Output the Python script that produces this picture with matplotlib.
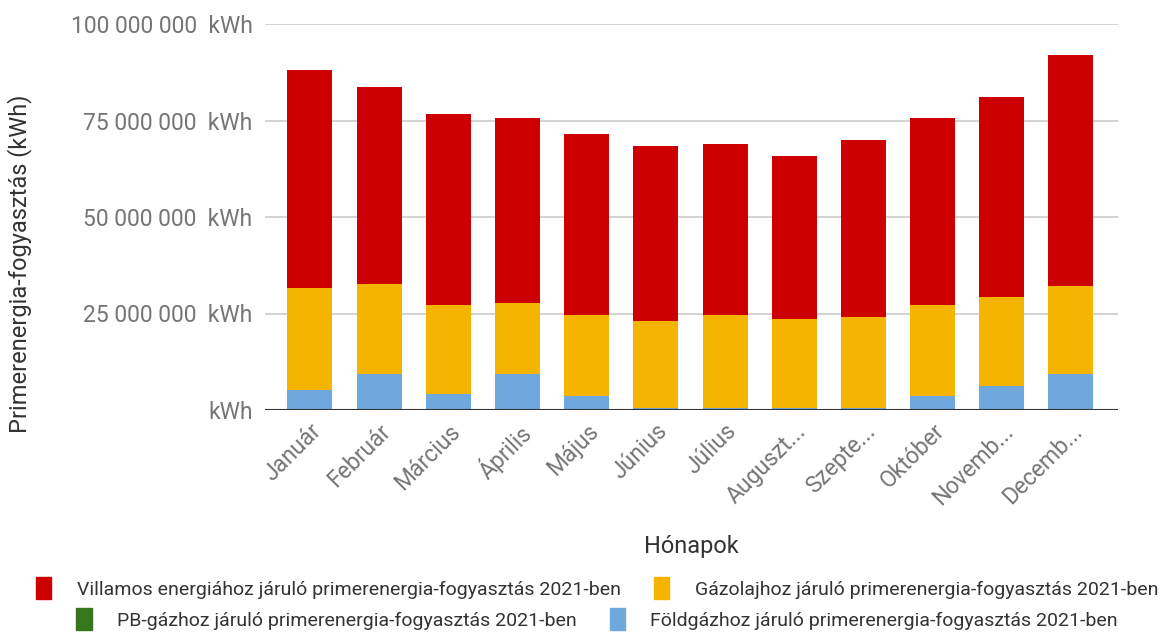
import numpy as np
import matplotlib
matplotlib.use('Agg')
import matplotlib.pyplot as plt
from matplotlib.patches import Patch

plt.rcParams['font.family'] = ['Roboto', 'DejaVu Sans']

months = ['Január', 'Február', 'Március', 'Április', 'Május', 'Június', 'Július',
          'Auguszt...', 'Szepte...', 'Október', 'Novemb...', 'Decemb...']

# values in million kWh
foldgaz = [5.2, 9.3, 4.2, 9.3, 3.7, 0.4, 0.4, 0.4, 0.4, 3.6, 6.2, 9.3]
pb_gaz = [0, 0, 0, 0, 0, 0, 0, 0, 0, 0, 0, 0]
gazolaj = [26.5, 23.4, 22.9, 18.4, 20.9, 22.7, 24.2, 23.2, 23.7, 23.5, 23.0, 22.9]
villamos = [56.3, 51.1, 49.6, 47.9, 47.0, 45.4, 44.4, 42.3, 45.9, 48.5, 52.0, 59.8]

labels = ['Villamos energiához járuló primerenergia-fogyasztás 2021-ben',
          'Gázolajhoz járuló primerenergia-fogyasztás 2021-ben',
          'PB-gázhoz járuló primerenergia-fogyasztás 2021-ben',
          'Földgázhoz járuló primerenergia-fogyasztás 2021-ben']
colors = ['#cc0000', '#f4b400', '#38761d', '#6fa8dc']

fig = plt.figure(figsize=(11.61, 6.32), dpi=100)
ax = fig.add_axes([265 / 1161, 1 - 410 / 632, (1118 - 265) / 1161, (410 - 24) / 632])

x = np.arange(len(months))
w = 0.65
scale = 1e6
b = np.zeros(len(months))
for vals, col in [(foldgaz, colors[3]), (pb_gaz, colors[2]), (gazolaj, colors[1]), (villamos, colors[0])]:
    v = np.array(vals) * scale
    ax.bar(x, v, w, bottom=b, color=col, zorder=3)
    b += v

ax.set_xlim(-0.65, 11.68)
ax.set_ylim(0, 100e6)
yt = [0, 25e6, 50e6, 75e6, 100e6]
ax.set_yticks(yt)
ax.set_yticklabels(['kWh', '25 000 000  kWh', '50 000 000  kWh', '75 000 000  kWh', '100 000 000  kWh'])
ax.grid(axis='y', color='#cccccc', linewidth=1.2, zorder=0)
ax.axhline(0, color='#333333', linewidth=1.5, zorder=4)
for s in ax.spines.values():
    s.set_visible(False)
ax.tick_params(axis='both', length=0, colors='#757575', labelsize=16.5)
ax.tick_params(axis='y', pad=9)
ax.set_xticks(x)
ax.set_xticklabels(months, rotation=45, ha='right', rotation_mode='anchor')
ax.tick_params(axis='x', pad=7)

fig.text(20 / 1161, 1 - 264 / 632, 'Primerenergia-fogyasztás (kWh)', rotation=90,
         ha='center', va='center', fontsize=17, color='#333333')
fig.text(691 / 1161, 1 - 547 / 632, 'Hónapok', ha='center', va='center',
         fontsize=17, color='#333333')

h = [Patch(facecolor=c, edgecolor=c) for c in colors]
kw = dict(loc='center', ncol=2, frameon=False, fontsize=14, labelcolor='#333333',
          handlelength=0.8, handleheight=1.3, columnspacing=1.7, handletextpad=1.3)
fig.legend(h[:2], labels[:2], bbox_to_anchor=(597 / 1161, 1 - 588 / 632), **kw)
fig.legend(h[2:], labels[2:], bbox_to_anchor=(597 / 1161, 1 - 619 / 632), **kw)

fig.savefig('out.png', dpi=100)
